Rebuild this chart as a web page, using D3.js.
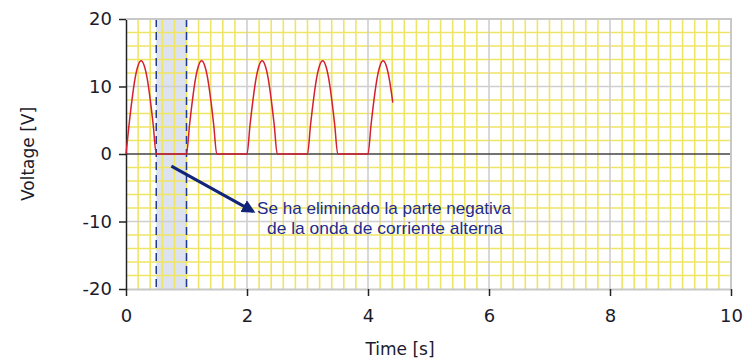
<!DOCTYPE html>
<html>
<head>
<meta charset="utf-8">
<script src="https://cdn.jsdelivr.net/npm/d3@7"></script>
<style>
  body { margin: 0; background: #fff; }
  svg { display: block; font-family: "DejaVu Sans", Arial, sans-serif; }
</style>
</head>
<body>
<div id="main"></div>
<script>
(function(){

  const width = 752
  const height = 360
  const margin = { top: 19, right: 21, bottom: 70, left: 126 }

  // time axis [s] and voltage [V], every 0.05 s
  const times = [
    0.00, 0.05, 0.10, 0.15, 0.20, 0.25, 0.30, 0.35, 0.40, 0.45,
    0.50, 0.55, 0.60, 0.65, 0.70, 0.75, 0.80, 0.85, 0.90, 0.95,
    1.00, 1.05, 1.10, 1.15, 1.20, 1.25, 1.30, 1.35, 1.40, 1.45,
    1.50, 1.55, 1.60, 1.65, 1.70, 1.75, 1.80, 1.85, 1.90, 1.95,
    2.00, 2.05, 2.10, 2.15, 2.20, 2.25, 2.30, 2.35, 2.40, 2.45,
    2.50, 2.55, 2.60, 2.65, 2.70, 2.75, 2.80, 2.85, 2.90, 2.95,
    3.00, 3.05, 3.10, 3.15, 3.20, 3.25, 3.30, 3.35, 3.40, 3.45,
    3.50, 3.55, 3.60, 3.65, 3.70, 3.75, 3.80, 3.85, 3.90, 3.95,
    4.00, 4.05, 4.10, 4.15, 4.20, 4.25, 4.30, 4.35, 4.41
  ]
  const volts = [
    0.0, 4.3, 8.1, 11.2, 13.1, 13.8, 13.1, 11.2, 8.1, 4.3,
    0.0, 0.0, 0.0, 0.0, 0.0, 0.0, 0.0, 0.0, 0.0, 0.0,
    0.0, 4.3, 8.1, 11.2, 13.1, 13.8, 13.1, 11.2, 8.1, 4.3,
    0.0, 0.0, 0.0, 0.0, 0.0, 0.0, 0.0, 0.0, 0.0, 0.0,
    0.0, 4.3, 8.1, 11.2, 13.1, 13.8, 13.1, 11.2, 8.1, 4.3,
    0.0, 0.0, 0.0, 0.0, 0.0, 0.0, 0.0, 0.0, 0.0, 0.0,
    0.0, 4.3, 8.1, 11.2, 13.1, 13.8, 13.1, 11.2, 8.1, 4.3,
    0.0, 0.0, 0.0, 0.0, 0.0, 0.0, 0.0, 0.0, 0.0, 0.0,
    0.0, 4.3, 8.1, 11.2, 13.1, 13.8, 13.1, 11.2, 7.6
  ]

  const xTicks = [0, 2, 4, 6, 8, 10]
  const yTicks = [-20, -10, 0, 10, 20]
  const xMinor = d3.range(0, 10.01, 0.2)
  const yMinor = d3.range(-20, 20.01, 2)
  const window = [0.5, 1.0]
  const note = ["Se ha eliminado la parte negativa", "de la onda de corriente alterna"]
  const arrowFrom = [0.75, -1.8]
  const arrowTo = [2.1, -8.5]

  const data = times.map((t, i) => ({ t: t, v: volts[i] }))

  const svg = d3.select("#main").append("svg")
    .attr("width", width)
    .attr("height", height)

  const xScale = d3.scaleLinear()
    .domain([0, 10])
    .range([margin.left, width - margin.right])

  const yScale = d3.scaleLinear()
    .domain([-20, 20])
    .range([height - margin.bottom - 1, margin.top])

  const x0 = xScale(0), x1 = xScale(10), y0 = yScale(20), y1 = yScale(-20)

  // shaded window
  svg.append("rect")
    .attr("x", xScale(window[0]))
    .attr("y", y0)
    .attr("width", xScale(window[1]) - xScale(window[0]))
    .attr("height", y1 - y0)
    .attr("fill", "#dce2f0")

  // yellow grid
  svg.append("g").selectAll("line")
    .data(xMinor.filter(d => Math.round(d * 10) % 20 !== 0))
    .join("line")
    .attr("x1", d => xScale(d)).attr("x2", d => xScale(d))
    .attr("y1", y0).attr("y2", y1)
    .attr("stroke", "#efe565").attr("stroke-width", 1.6)

  svg.append("g").selectAll("line")
    .data(yMinor.filter(d => d % 10 !== 0))
    .join("line")
    .attr("x1", x0).attr("x2", x1)
    .attr("y1", d => yScale(d)).attr("y2", d => yScale(d))
    .attr("stroke", "#efe565").attr("stroke-width", 1.6)

  // gray major grid
  svg.append("g").selectAll("line")
    .data(xTicks.slice(1))
    .join("line")
    .attr("x1", d => xScale(d)).attr("x2", d => xScale(d))
    .attr("y1", y0).attr("y2", y1)
    .attr("stroke", "#cfcfcf").attr("stroke-width", 1.6)

  svg.append("g").selectAll("line")
    .data(yTicks.filter(d => d !== 0 && d !== -20))
    .join("line")
    .attr("x1", x0).attr("x2", x1)
    .attr("y1", d => yScale(d)).attr("y2", d => yScale(d))
    .attr("stroke", "#cfcfcf").attr("stroke-width", 1.6)

  // dashed window edges
  svg.append("g").selectAll("line")
    .data(window)
    .join("line")
    .attr("x1", d => xScale(d)).attr("x2", d => xScale(d))
    .attr("y1", y0).attr("y2", y1)
    .attr("stroke", "#1f3a8f").attr("stroke-width", 1.5)
    .attr("stroke-dasharray", "8,5")

  // zero line
  svg.append("line")
    .attr("x1", x0).attr("x2", x1)
    .attr("y1", yScale(0)).attr("y2", yScale(0))
    .attr("stroke", "#444").attr("stroke-width", 1.5)

  // axes
  const xAxis = d3.axisBottom(xScale)
    .tickValues(xTicks)
    .tickFormat(d => String(d))
    .tickSize(7)
    .tickPadding(13)
    .tickSizeOuter(0)

  const yAxis = d3.axisLeft(yScale)
    .tickValues(yTicks)
    .tickFormat(d => String(d))
    .tickSize(7)
    .tickPadding(7)
    .tickSizeOuter(0)

  const gx = svg.append("g")
    .attr("transform", `translate(0,${y1})`)
    .call(xAxis)
  gx.select(".domain").attr("stroke", "#c8c8c8").attr("stroke-width", 2)
  gx.selectAll(".tick line").attr("stroke", "#222").attr("stroke-width", 1.5)

  const gy = svg.append("g")
    .attr("transform", `translate(${x0},0)`)
    .call(yAxis)
  gy.select(".domain").attr("stroke", "#222").attr("stroke-width", 1.5)
  gy.selectAll(".tick line").attr("stroke", "#222").attr("stroke-width", 1.5)

  svg.selectAll(".tick text")
    .attr("font-size", 18)
    .attr("font-family", "DejaVu Sans, Arial, sans-serif")
    .attr("fill", "#1b1b2b")

  // top and right frame
  svg.append("path")
    .attr("d", `M${x0},${y0}H${x1}V${y1}`)
    .attr("fill", "none")
    .attr("stroke", "#c8c8c8")
    .attr("stroke-width", 2)

  // signal
  const line = d3.line()
    .curve(d3.curveMonotoneX)
    .x(d => xScale(d.t))
    .y(d => yScale(d.v))

  svg.append("path")
    .datum(data)
    .attr("fill", "none")
    .attr("stroke", "#d42030")
    .attr("stroke-width", 1.5)
    .attr("stroke-linejoin", "round")
    .attr("d", line)

  // annotation arrow
  svg.append("defs").append("marker")
    .attr("id", "head")
    .attr("viewBox", "0 0 10 10")
    .attr("refX", 8).attr("refY", 5)
    .attr("markerWidth", 4.5).attr("markerHeight", 4.5)
    .attr("orient", "auto")
    .append("path")
    .attr("d", "M0,0L10,5L0,10z")
    .attr("fill", "#10247a")

  svg.append("line")
    .attr("x1", xScale(arrowFrom[0])).attr("y1", yScale(arrowFrom[1]))
    .attr("x2", xScale(arrowTo[0])).attr("y2", yScale(arrowTo[1]))
    .attr("stroke", "#10247a")
    .attr("stroke-width", 3)
    .attr("marker-end", "url(#head)")

  const noteText = svg.append("g")
    .attr("font-family", "Liberation Sans Narrow, Liberation Sans, Arial, sans-serif")
    .attr("font-size", 17)
    .attr("fill", "#1e2c8c")

  noteText.append("text")
    .attr("x", 257).attr("y", 214)
    .attr("textLength", 254)
    .attr("lengthAdjust", "spacingAndGlyphs")
    .text(note[0])

  noteText.append("text")
    .attr("x", 267).attr("y", 234)
    .attr("textLength", 236)
    .attr("lengthAdjust", "spacingAndGlyphs")
    .text(note[1])

  // axis titles
  svg.append("text")
    .attr("transform", `translate(34,${(y0 + y1) / 2}) rotate(-90)`)
    .attr("text-anchor", "middle")
    .attr("font-size", 17)
    .attr("fill", "#1b1b2b")
    .text("Voltage [V]")

  svg.append("text")
    .attr("x", 400)
    .attr("y", 355)
    .attr("text-anchor", "middle")
    .attr("font-size", 17)
    .attr("fill", "#1b1b2b")
    .text("Time [s]")

}())
</script>
</body>
</html>
